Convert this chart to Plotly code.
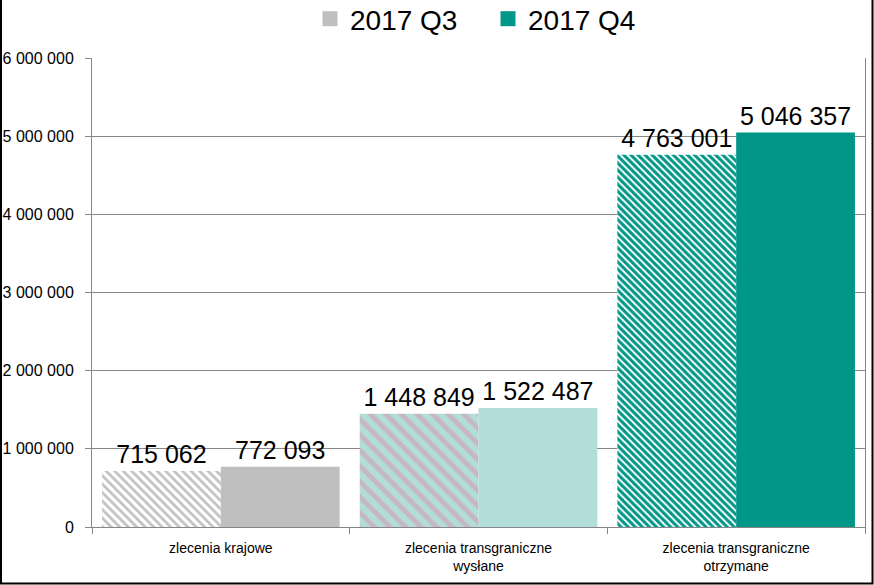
import plotly.graph_objects as go

categories = ["zlecenia krajowe", "zlecenia transgraniczne<br>wysłane", "zlecenia transgraniczne<br>otrzymane"]
series_names = ["2017 Q3", "2017 Q4"]
q3_values = [715062, 1448849, 4763001]
q4_values = [772093, 1522487, 5046357]
y_tick_vals = [0, 1000000, 2000000, 3000000, 4000000, 5000000, 6000000]
y_tick_text = ["0", "1 000 000", "2 000 000", "3 000 000", "4 000 000", "5 000 000", "6 000 000"]


def fmt(v):
    return f"{v:,}".replace(",", " ")


W, H = 874, 585
L, R, T, B = 92, 865, 58, 527
pw, ph = R - L, B - T


def px(p):
    return (p - L) / pw


def py(p):
    return (B - p) / ph


q3_fg = ["#c0c0c0", "#c6b8bf", "#ffffff"]
q3_bg = ["#ffffff", "#b3ddd8", "#009688"]
q3_size = [6, 11, 5]
q3_solidity = [0.45, 0.45, 0.4]
q4_colors = ["#bfbfbf", "#b3ddd8", "#009688"]
legend_colors = ["#bfbfbf", "#009688"]

fig = go.Figure()
for i, cat in enumerate(categories):
    fig.add_trace(go.Bar(
        x=[cat], y=[q3_values[i]], name=series_names[0], showlegend=False,
        offsetgroup="q3",
        marker=dict(color=q3_bg[i], line=dict(width=0),
                    pattern=dict(shape="\\", fgcolor=q3_fg[i], bgcolor=q3_bg[i], fgopacity=1,
                                 size=q3_size[i], solidity=q3_solidity[i], fillmode="replace")),
        text=[fmt(q3_values[i])], textposition="outside",
        textfont=dict(size=25, color="#000000"), cliponaxis=False,
        constraintext="none",
    ))
fig.add_trace(go.Bar(
    x=categories, y=q4_values, name=series_names[1], showlegend=False,
    offsetgroup="q4",
    marker=dict(color=q4_colors, line=dict(width=0)),
    text=[fmt(v) for v in q4_values], textposition="outside",
    textfont=dict(size=25, color="#000000"), cliponaxis=False,
    constraintext="none",
))
for name, col in zip(series_names, legend_colors):
    fig.add_trace(go.Scatter(
        x=[None], y=[None], mode="markers", name=name,
        marker=dict(symbol="square", size=15, color=col),
    ))

fig.update_layout(
    width=W, height=H,
    margin=dict(l=L, r=W - R, t=T, b=H - B, pad=0, autoexpand=False),
    paper_bgcolor="#ffffff", plot_bgcolor="#ffffff",
    barmode="group", bargap=0.078, bargroupgap=0,
    font=dict(family="Liberation Sans, Arial, sans-serif", color="#000000"),
    showlegend=True,
    legend=dict(orientation="h", x=px(488), xanchor="center", xref="paper",
                y=py(-6), yanchor="top", yref="paper",
                font=dict(size=28, color="#000000"), itemwidth=30, entrywidth=133,
                bgcolor="rgba(0,0,0,0)", tracegroupgap=0),
    xaxis=dict(
        type="category", showgrid=False, showline=True, linecolor="#868686", linewidth=1,
        ticks="outside", tickson="boundaries", ticklen=6, tickcolor="#868686",
        tickfont=dict(size=14), automargin=False, ticklabelstandoff=8,
        mirror=False, fixedrange=True,
    ),
    yaxis=dict(
        range=[0, 6000000], tickvals=y_tick_vals, ticktext=y_tick_text,
        showgrid=True, gridcolor="#868686", gridwidth=1,
        showline=True, linecolor="#868686", linewidth=1, mirror=True,
        ticks="outside", ticklen=6, tickcolor="#868686", ticklabelstandoff=8,
        tickfont=dict(size=16), zeroline=False, fixedrange=True, automargin=False,
    ),
    shapes=[
        dict(type="rect", xref="paper", yref="paper",
             x0=px(1), x1=px(872.5), y0=py(583.5), y1=py(-10),
             line=dict(color="#000000", width=2), fillcolor="rgba(0,0,0,0)", layer="above"),
    ],
)

fig.write_html("out.html", config={"displayModeBar": False},
               post_script="document.body.style.margin='0px';document.body.style.overflow='hidden';")
